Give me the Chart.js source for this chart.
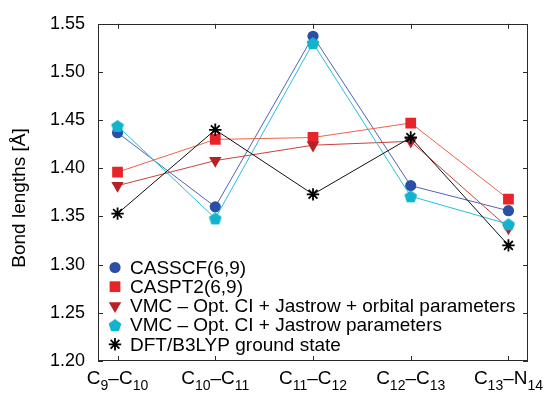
<!DOCTYPE html>
<html>
<head>
<meta charset="utf-8">
<script src="https://cdn.jsdelivr.net/npm/chart.js@4/dist/chart.umd.min.js"></script>
<style>
  html, body { margin: 0; padding: 0; background: #fff; }
  #wrap { width: 547px; height: 393px; }
</style>
</head>
<body>
<div id="wrap"><canvas id="c" width="547" height="393"></canvas></div>
<script>
// ---- data ----
const categories = ['C9–C10', 'C10–C11', 'C11–C12', 'C12–C13', 'C13–N14'];
const yTickValues = [1.20, 1.25, 1.30, 1.35, 1.40, 1.45, 1.50, 1.55];
const seriesNames = [
  'CASSCF(6,9)',
  'CASPT2(6,9)',
  'VMC – Opt. CI + Jastrow + orbital parameters',
  'VMC – Opt. CI + Jastrow parameters',
  'DFT/B3LYP ground state'
];
const casscf = [1.437, 1.360, 1.537, 1.382, 1.356];
const caspt2 = [1.396, 1.430, 1.432, 1.447, 1.368];
const vmcOrb = [1.382, 1.408, 1.424, 1.428, 1.338];
const vmcJas = [1.444, 1.348, 1.530, 1.371, 1.342];
const dft    = [1.353, 1.440, 1.373, 1.432, 1.320];
const yTitle = 'Bond lengths [Å]';

// ---- styling ----
const FONT = '"Liberation Sans", Arial, Helvetica, sans-serif';

function makePentagon(color, size) {
  const c = document.createElement('canvas');
  c.width = size; c.height = size;
  const g = c.getContext('2d');
  const r = size / 2 - 0.3;
  const cx = size / 2, cy = size / 2 + 0.6;
  g.beginPath();
  for (let k = 0; k < 5; k++) {
    const a = -Math.PI / 2 + k * 2 * Math.PI / 5;
    const px = cx + r * Math.cos(a), py = cy + r * Math.sin(a);
    if (k === 0) g.moveTo(px, py); else g.lineTo(px, py);
  }
  g.closePath();
  g.fillStyle = color;
  g.fill();
  return c;
}
const pentagon = makePentagon('#12b4cc', 14);

const styles = [
  { line: '#4f63bb', mark: '#2b4fa6', pointStyle: 'circle', radius: 5.6, rot: 0, bw: 0 },
  { line: '#f0624a', mark: '#e8232a', pointStyle: 'rect', radius: 7.6, rot: 0, bw: 0 },
  { line: '#c8413b', mark: '#b72227', pointStyle: 'triangle', radius: 7.2, rot: 180, bw: 0 },
  { line: '#27bfd6', mark: '#12b4cc', pointStyle: pentagon, radius: 7, rot: 0, bw: 0 },
  { line: '#111111', mark: '#000000', pointStyle: 'star', radius: 6.2, rot: 0, bw: 1.8 }
];
const allSeries = [casscf, caspt2, vmcOrb, vmcJas, dft];

const datasets = allSeries.map((vals, s) => ({
  label: seriesNames[s],
  data: vals.map((v, i) => ({ x: i, y: v })),
  borderColor: styles[s].line,
  backgroundColor: styles[s].mark,
  borderWidth: 1,
  pointStyle: styles[s].pointStyle,
  pointRadius: styles[s].radius,
  pointHoverRadius: styles[s].radius,
  pointRotation: styles[s].rot,
  pointBackgroundColor: styles[s].mark,
  pointBorderColor: styles[s].mark,
  pointBorderWidth: styles[s].bw,
  order: 4 - s,
  tension: 0,
  fill: false
}));

function drawMarker(ctx, st, x, y) {
  ctx.save();
  ctx.fillStyle = st.mark;
  ctx.strokeStyle = st.mark;
  const r = st.radius;
  if (st.pointStyle === 'circle') {
    ctx.beginPath(); ctx.arc(x, y, r, 0, Math.PI * 2); ctx.fill();
  } else if (st.pointStyle === 'rect') {
    const h = r * Math.SQRT1_2;
    ctx.fillRect(x - h, y - h, 2 * h, 2 * h);
  } else if (st.pointStyle === 'triangle') {
    ctx.beginPath();
    for (let k = 0; k < 3; k++) {
      const a = Math.PI / 2 + k * 2 * Math.PI / 3;
      const px = x + r * Math.cos(a), py = y + r * Math.sin(a);
      if (k === 0) ctx.moveTo(px, py); else ctx.lineTo(px, py);
    }
    ctx.closePath(); ctx.fill();
  } else if (st.pointStyle === 'star') {
    ctx.lineWidth = st.bw;
    ctx.beginPath();
    for (let k = 0; k < 4; k++) {
      const a = k * Math.PI / 4;
      ctx.moveTo(x - r * Math.cos(a), y - r * Math.sin(a));
      ctx.lineTo(x + r * Math.cos(a), y + r * Math.sin(a));
    }
    ctx.stroke();
  } else {
    const img = st.pointStyle;
    ctx.drawImage(img, x - img.width / 2, y - img.height / 2);
  }
  ctx.restore();
}

const decorPlugin = {
  id: 'decor',
  afterDraw(chart) {
    const ctx = chart.ctx;
    const a = chart.chartArea;
    const xs = chart.scales.x, ys = chart.scales.y;
    ctx.save();
    // frame
    ctx.strokeStyle = '#2a2a2a';
    ctx.lineWidth = 1;
    ctx.strokeRect(Math.round(a.left) + 0.5, Math.round(a.top) + 0.5,
                   Math.round(a.right - a.left) - 1, Math.round(a.bottom - a.top) - 1);
    // inward ticks
    const tl = 5;
    ctx.beginPath();
    yTickValues.forEach(v => {
      const py = Math.round(ys.getPixelForValue(v)) + 0.5;
      ctx.moveTo(a.left, py); ctx.lineTo(a.left + tl, py);
      ctx.moveTo(a.right, py); ctx.lineTo(a.right - tl, py);
    });
    categories.forEach((c, i) => {
      const px = Math.round(xs.getPixelForValue(i)) + 0.5;
      ctx.moveTo(px, a.bottom); ctx.lineTo(px, a.bottom - tl);
      ctx.moveTo(px, a.top); ctx.lineTo(px, a.top + tl);
    });
    ctx.stroke();

    // x labels with subscripts
    ctx.fillStyle = '#000';
    ctx.textBaseline = 'alphabetic';
    ctx.textAlign = 'left';
    const mainFont = '19px ' + FONT, subFont = '14px ' + FONT;
    categories.forEach((c, i) => {
      const parts = c.match(/(\d+|[^\d]+)/g);
      const segs = parts.map(p => ({ t: p, sub: /^\d+$/.test(p) }));
      let w = 0;
      segs.forEach(s => { ctx.font = s.sub ? subFont : mainFont; s.w = ctx.measureText(s.t).width; w += s.w; });
      let x = xs.getPixelForValue(i) - w / 2;
      segs.forEach(s => {
        ctx.font = s.sub ? subFont : mainFont;
        ctx.fillText(s.t, x, a.bottom + (s.sub ? 29 : 23));
        x += s.w;
      });
    });

    // y title
    ctx.save();
    ctx.translate(20, 198);
    ctx.rotate(-Math.PI / 2);
    ctx.font = '19px ' + FONT;
    ctx.textAlign = 'center';
    ctx.textBaseline = 'middle';
    ctx.fillText(yTitle, 0, 0);
    ctx.restore();

    // legend
    const lx = 115, ltx = 130, ly0 = 267.5, dy = 19.2;
    ctx.font = '19px ' + FONT;
    ctx.textAlign = 'left';
    ctx.textBaseline = 'middle';
    seriesNames.forEach((name, s) => {
      const y = ly0 + s * dy;
      drawMarker(ctx, styles[s], lx, y);
      ctx.fillStyle = '#000';
      ctx.fillText(name, ltx, y + 1);
    });
    ctx.restore();
  }
};

new Chart(document.getElementById('c'), {
  type: 'line',
  data: { datasets },
  options: {
    responsive: false,
    animation: false,
    devicePixelRatio: 1,
    layout: { padding: { top: 18, right: 19, left: 0, bottom: 0 } },
    plugins: { legend: { display: false }, tooltip: { enabled: false } },
    scales: {
      x: {
        type: 'linear',
        min: -0.2,
        max: 4.2,
        grid: { display: false },
        border: { display: false },
        ticks: { display: false },
        afterFit(scale) { scale.height = 32; }
      },
      y: {
        type: 'linear',
        min: 1.20,
        max: 1.55,
        grid: { display: false, drawTicks: false },
        border: { display: false },
        afterBuildTicks(scale) { scale.ticks = yTickValues.map(v => ({ value: v })); },
        ticks: {
          padding: 13,
          color: '#000',
          font: { family: FONT, size: 18 },
          callback: v => Number(v).toFixed(2)
        },
        afterFit(scale) { scale.width = 98; }
      }
    }
  },
  plugins: [decorPlugin]
});
</script>
</body>
</html>
